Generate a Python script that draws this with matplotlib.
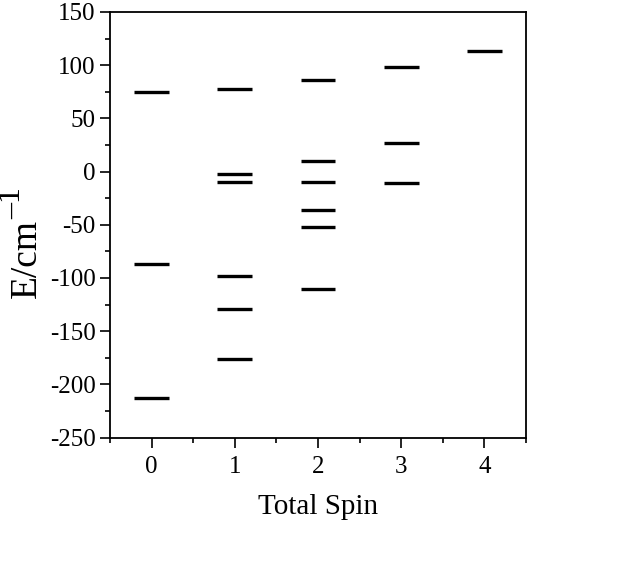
import matplotlib
matplotlib.use("Agg")
import matplotlib.pyplot as plt
from matplotlib.ticker import MultipleLocator

plt.rcParams['font.family'] = ['Liberation Serif', 'DejaVu Serif']
plt.rcParams['axes.unicode_minus'] = False

spins = [0, 1, 2, 3, 4]
levels = {
    0: [75, -87, -213],
    1: [78, -2, -10, -98, -129, -176],
    2: [86, 10, -10, -36, -52, -110],
    3: [98, 27, -11],
    4: [113],
}
xtick_labels = ["0", "1", "2", "3", "4"]

W, H = 632, 583
fig = plt.figure(figsize=(W / 100, H / 100), dpi=100)
ax = fig.add_axes([110/W, 1-437.5/H, (526-110)/W, (437.5-12)/H])

half = 0.21
for s in spins:
    for e in levels[s]:
        ax.plot([s - half, s + half], [e, e], color='black', lw=2.4, solid_capstyle='butt')

ax.set_xlim(-0.5, 4.5)
ax.set_ylim(-250, 150)
ax.set_xticks(spins)
ax.set_xticklabels(xtick_labels)
ax.xaxis.set_minor_locator(MultipleLocator(0.5))
ax.yaxis.set_major_locator(MultipleLocator(50))
ax.yaxis.set_minor_locator(MultipleLocator(25))
ax.tick_params(which='major', direction='out', length=7, width=1.2, labelsize=18, color='black')
ax.tick_params(which='minor', direction='out', length=3.6, width=1.2)
ax.tick_params(axis='x', pad=6)
for sp in ax.spines.values():
    sp.set_linewidth(1.3)

ax.set_xlabel('Total Spin', fontsize=21, labelpad=12)

# y label: "E/cm" with a large superscript "-1"
fig.text(27/W, 1-258/H, 'E/cm', rotation=90, fontsize=27, ha='center', va='center')
fig.text(13/W, 1-203/H, '\u20131', rotation=90, fontsize=23, ha='center', va='center')

fig.savefig('out.png', dpi=100)
